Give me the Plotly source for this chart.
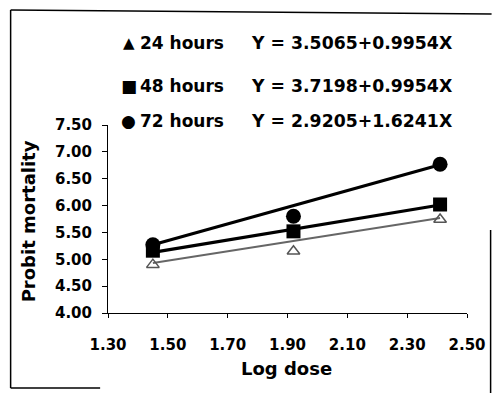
import plotly.graph_objects as go

# ---- data ----
log_dose = [1.45, 1.92, 2.41]
probit_24h = [4.90, 5.15, 5.74]
probit_48h = [5.16, 5.52, 6.02]
probit_72h = [5.27, 5.80, 6.77]

# regression line end values (at first and last dose)
fit_x = [1.45, 2.41]
fit_24h = [4.93, 5.77]
fit_48h = [5.13, 6.01]
fit_72h = [5.27, 6.76]

legend_labels = ["24 hours", "48 hours", "72 hours"]
legend_symbols = ["▲", "■", "●"]
equations = ["Y = 3.5065+0.9954X", "Y = 3.7198+0.9954X", "Y = 2.9205+1.6241X"]

x_ticks = [1.30, 1.50, 1.70, 1.90, 2.10, 2.30, 2.50]
y_ticks = [4.00, 4.50, 5.00, 5.50, 6.00, 6.50, 7.00, 7.50]

FONT = "DejaVu Sans"
W, H = 498, 393
L, R, T, B = 108, 25, 125, 80
PW, PH = W - L - R, H - T - B

def px(x):
    return (x - L) / PW

def py(y):
    return (H - B - y) / PH

fig = go.Figure()

# fitted lines
fig.add_trace(go.Scatter(x=fit_x, y=fit_24h, mode="lines",
                         line=dict(color="#666666", width=2), showlegend=False))
fig.add_trace(go.Scatter(x=fit_x, y=fit_48h, mode="lines",
                         line=dict(color="black", width=3.2), showlegend=False))
fig.add_trace(go.Scatter(x=fit_x, y=fit_72h, mode="lines",
                         line=dict(color="black", width=3.2), showlegend=False))

# observed points
fig.add_trace(go.Scatter(x=log_dose, y=probit_24h, mode="markers",
                         marker=dict(symbol="triangle-up-open", size=11, color="#555555",
                                     line=dict(width=1.5, color="#555555")),
                         showlegend=False))
fig.add_trace(go.Scatter(x=log_dose, y=probit_48h, mode="markers",
                         marker=dict(symbol="square", size=14, color="black"),
                         showlegend=False))
fig.add_trace(go.Scatter(x=log_dose, y=probit_72h, mode="markers",
                         marker=dict(symbol="circle", size=15, color="black"),
                         showlegend=False))

annotations = []
rows_y = [43, 86, 121]
sym_sizes = [15, 17, 17]
for i in range(3):
    annotations.append(dict(x=px(129), y=py(rows_y[i]), xref="paper", yref="paper",
                            text=legend_symbols[i], showarrow=False, xanchor="center",
                            yanchor="middle", font=dict(family=FONT, size=sym_sizes[i], color="black")))
    annotations.append(dict(x=px(138), y=py(rows_y[i]), xref="paper", yref="paper",
                            text="<b>" + legend_labels[i] + "</b>", showarrow=False,
                            xanchor="left", yanchor="middle",
                            font=dict(family=FONT, size=17, color="black")))
    annotations.append(dict(x=px(251), y=py(rows_y[i]), xref="paper", yref="paper",
                            text="<b>" + equations[i] + "</b>", showarrow=False,
                            xanchor="left", yanchor="middle",
                            font=dict(family=FONT, size=17.3, color="black")))

annotations.append(dict(x=px(289), y=py(368), xref="paper", yref="paper",
                        text="<b>Log dose</b>", showarrow=False, xanchor="center",
                        yanchor="middle", font=dict(family=FONT, size=18, color="black")))
annotations.append(dict(x=px(27), y=py(221), xref="paper", yref="paper",
                        text="<b>Probit mortality</b>", showarrow=False, xanchor="center",
                        yanchor="middle", textangle=-90,
                        font=dict(family=FONT, size=18, color="black")))

shapes = [
    dict(type="line", xref="paper", yref="paper", x0=px(9), y0=py(10), x1=px(498), y1=py(14),
         line=dict(color="black", width=1.5)),
    dict(type="line", xref="paper", yref="paper", x0=px(9), y0=py(10), x1=px(9), y1=py(388),
         line=dict(color="black", width=1.5)),
    dict(type="line", xref="paper", yref="paper", x0=px(9), y0=py(388), x1=px(100), y1=py(388),
         line=dict(color="black", width=1.5)),
    dict(type="line", xref="paper", yref="paper", x0=px(497), y0=py(230), x1=px(497), y1=py(393),
         line=dict(color="black", width=1.5)),
]

fig.update_layout(
    width=W, height=H,
    margin=dict(l=L, r=R, t=T, b=B),
    paper_bgcolor="white", plot_bgcolor="white",
    annotations=annotations, shapes=shapes,
    xaxis=dict(range=[1.30, 2.50], tickvals=x_ticks,
               ticktext=["<b>%.2f</b>" % v for v in x_ticks],
               showgrid=False, zeroline=False, showline=True, linecolor="black", linewidth=1,
               ticks="outside", ticklen=4, tickcolor="black",
               tickfont=dict(family=FONT, size=15, color="black"),
               ticklabelstandoff=14),
    yaxis=dict(range=[4.00, 7.50], tickvals=y_ticks,
               ticktext=["<b>%.2f</b>" % v for v in y_ticks],
               showgrid=False, zeroline=False, showline=True, linecolor="black", linewidth=1,
               ticks="outside", ticklen=5, tickcolor="black",
               tickfont=dict(family=FONT, size=15, color="black"),
               ticklabelstandoff=7),
)

fig.write_html("out.html", config={"displayModeBar": False},
               post_script="document.body.style.margin='0';document.body.style.overflow='hidden';")
